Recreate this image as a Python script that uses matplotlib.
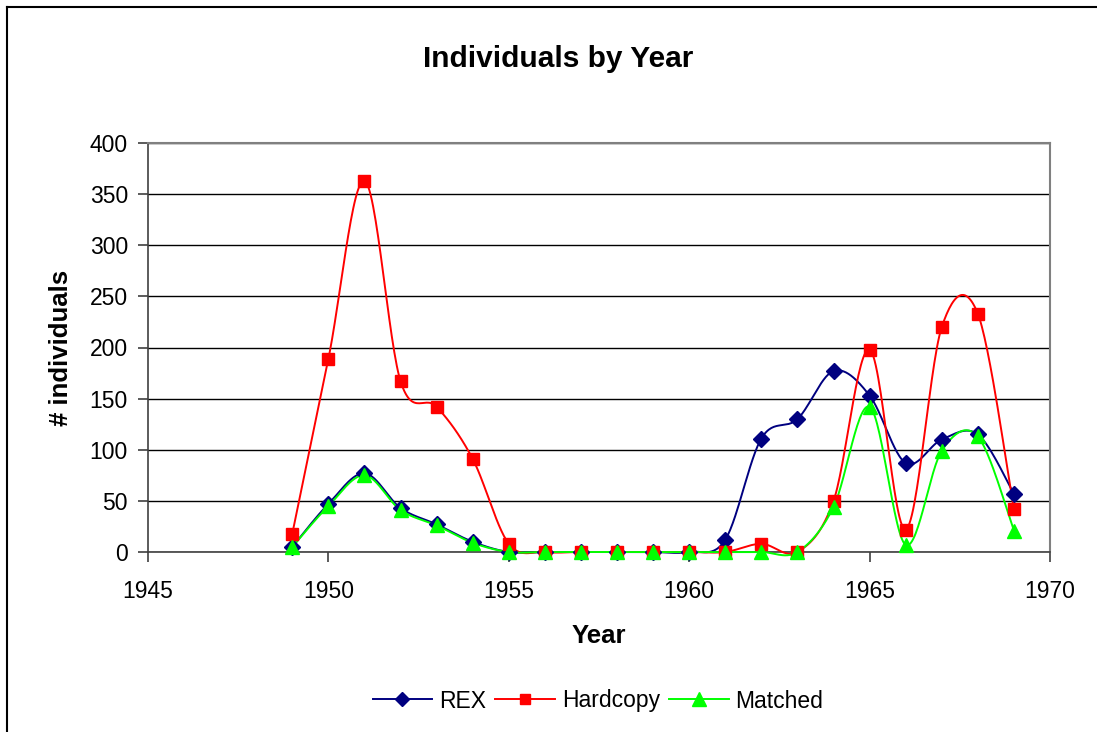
import numpy as np
import matplotlib
matplotlib.use("Agg")
import matplotlib.pyplot as plt
from matplotlib.lines import Line2D

years = list(range(1949, 1970))
rex = [5, 47, 77, 43, 27, 10, 0, 0, 0, 0, 0, 0, 12, 111, 130, 177, 153, 87, 110, 115, 57]
hardcopy = [18, 189, 363, 167, 142, 91, 8, 0, 0, 0, 0, 0, 0, 8, 0, 50, 198, 22, 220, 233, 42]
matched = [5, 45, 75, 41, 26, 9, 0, 0, 0, 0, 0, 0, 0, 0, 0, 44, 142, 7, 99, 113, 21]

series_names = ["REX", "Hardcopy", "Matched"]
colors = ["#000080", "#FF0000", "#00FF00"]
markers = ["D", "s", "^"]
msizes = [8, 8.5, 10.5]

plt.rcParams['font.family'] = ['Liberation Sans', 'DejaVu Sans']


def smooth(x, y, n=30):
    x = np.asarray(x, float)
    y = np.asarray(y, float)
    P = np.column_stack([x, y])
    out = []
    for i in range(len(P) - 1):
        p0 = P[i]
        p3 = P[i + 1]
        pm = P[i - 1] if i > 0 else P[i]
        pp = P[i + 2] if i + 2 < len(P) else P[i + 1]
        c1 = p0 + (p3 - pm) / 6.0
        c2 = p3 - (pp - p0) / 6.0
        t = np.linspace(0, 1, n)[:, None]
        b = ((1 - t) ** 3) * p0 + 3 * ((1 - t) ** 2) * t * c1 + 3 * (1 - t) * t ** 2 * c2 + t ** 3 * p3
        out.append(b if i == 0 else b[1:])
    arr = np.vstack(out)
    return arr[:, 0], arr[:, 1]


fig = plt.figure(figsize=(10.97, 7.32), dpi=100)
ax = fig.add_axes([148 / 1097, 1 - 552 / 732, (1050 - 148) / 1097, (552 - 143) / 732])

for vals, c, m, ms in zip([rex, hardcopy, matched], colors, markers, msizes):
    sx, sy = smooth(years, vals)
    ax.plot(sx, sy, color=c, lw=1.4, zorder=3, clip_on=False)
    ax.plot(years, vals, linestyle='none', marker=m, color=c, markersize=ms, zorder=4, clip_on=False)

ax.set_xlim(1945, 1970)
ax.set_ylim(0, 400)
ax.set_xticks(range(1945, 1971, 5))
ax.set_yticks(range(0, 401, 50))
ax.yaxis.grid(True, color='black', lw=1.0)
ax.set_axisbelow(True)
for s in ['top', 'right']:
    ax.spines[s].set_color('#808080')
    ax.spines[s].set_linewidth(1.5)
for s in ['left', 'bottom']:
    ax.spines[s].set_color('#404040')
    ax.spines[s].set_linewidth(1.2)
ax.tick_params(axis='both', direction='out', length=7, width=1.2, labelsize=16.5, color='#404040')
ax.tick_params(axis='x', pad=13)
ax.tick_params(axis='y', pad=7.5)

ax.set_xlabel("Year", fontsize=18.5, fontweight='bold', labelpad=15)
ax.set_ylabel("# individuals", fontsize=18.5, fontweight='bold', labelpad=12)
fig.text(558 / 1097, 1 - 59 / 732, "Individuals by Year", ha='center', va='center',
         fontsize=21.5, fontweight='bold')

handles = [Line2D([0], [0], color=c, lw=1.4, marker=m, markersize=ms - 1)
           for c, m, ms in zip(colors, markers, msizes)]
fig.legend(handles, series_names, loc='center', bbox_to_anchor=(598 / 1097, 1 - 701 / 732),
           ncol=3, frameon=False, fontsize=16.5, handlelength=2.6, columnspacing=0.4,
           handletextpad=0.3)

# outer chart border
fig.add_artist(Line2D([7 / 1097, 1.0], [1 - 7 / 732, 1 - 7 / 732], color='black', lw=1.5,
                      transform=fig.transFigure))
fig.add_artist(Line2D([7 / 1097, 7 / 1097], [0, 1 - 7 / 732], color='black', lw=1.5,
                      transform=fig.transFigure))

fig.savefig("out.png", dpi=100)
